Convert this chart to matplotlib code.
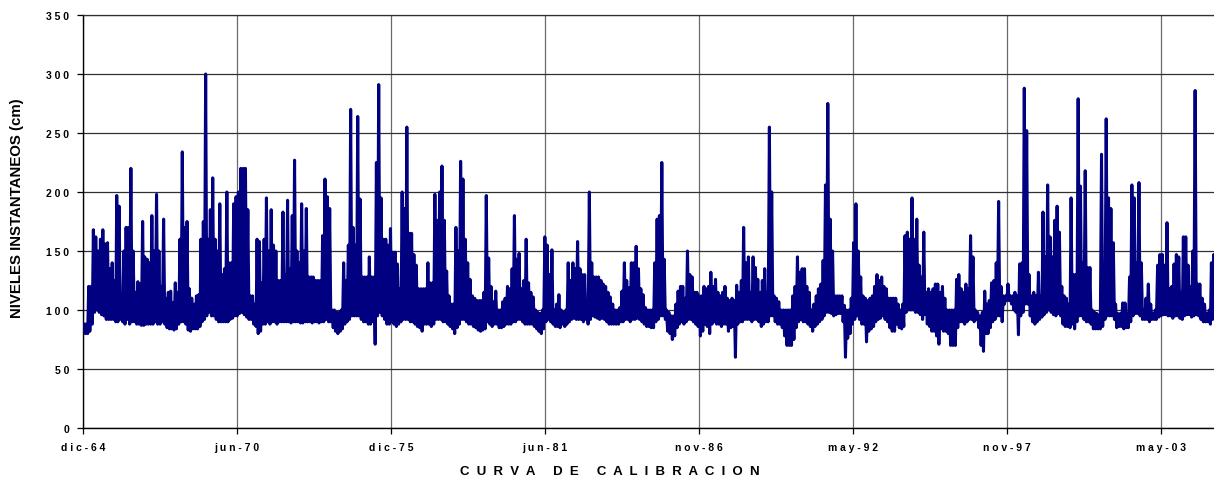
import matplotlib
matplotlib.use("Agg")
import numpy as np
import pandas as pd
import matplotlib.pyplot as plt
import matplotlib.dates as mdates

# ---------------- data (monthly max / min levels, cm) ----------------
nivel_max_1965_1974 = [
    88, 88, 120, 120, 168, 162, 150, 160, 168, 156, 157, 135,
    140, 125, 197, 188, 110, 150, 170, 170, 220, 150, 115, 124,
    122, 175, 145, 143, 140, 180, 150, 198, 150, 120, 177, 110,
    115, 116, 106, 123, 115, 160, 234, 170, 175, 118, 110, 105,
    112, 113, 160, 175, 300, 160, 185, 212, 160, 150, 190, 130,
    135, 200, 140, 140, 190, 196, 200, 220, 220, 220, 185, 112,
    112, 105, 160, 158, 123, 160, 195, 150, 185, 155, 150, 125,
    125, 183, 130, 193, 135, 180, 227, 150, 140, 190, 150, 186,
    128, 128, 128, 125, 125, 125, 163, 211, 196, 186, 100, 100,
    98, 98, 100, 140, 125, 155, 270, 170, 155, 264, 194, 128,
]
nivel_max_1975_1984 = [
    128, 128, 145, 128, 128, 225, 291, 195, 160, 160, 155, 169,
    149, 149, 139, 118, 200, 186, 255, 165, 165, 147, 138, 118,
    118, 118, 118, 140, 123, 123, 198, 176, 200, 222, 176, 133,
    112, 105, 105, 170, 150, 226, 211, 160, 140, 126, 112, 110,
    108, 108, 108, 115, 197, 144, 120, 107, 116, 100, 100, 107,
    110, 120, 118, 135, 180, 143, 148, 118, 125, 160, 123, 115,
    111, 100, 98, 97, 100, 162, 155, 130, 151, 100, 105, 113,
    100, 98, 100, 140, 125, 140, 135, 158, 135, 130, 130, 105,
    200, 140, 128, 128, 128, 125, 122, 120, 115, 111, 105, 100,
    100, 102, 116, 140, 125, 119, 140, 140, 154, 135, 118, 113,
]
nivel_max_1985_1994 = [
    102, 100, 100, 100, 140, 177, 180, 225, 143, 100, 98, 95,
    95, 105, 116, 120, 120, 110, 150, 130, 128, 115, 115, 112,
    112, 120, 118, 120, 132, 120, 126, 115, 112, 115, 120, 110,
    108, 110, 108, 121, 115, 125, 170, 140, 145, 115, 145, 136,
    126, 115, 125, 135, 115, 255, 200, 112, 110, 107, 100, 100,
    100, 100, 100, 112, 120, 145, 132, 135, 135, 120, 115, 100,
    105, 112, 118, 122, 142, 206, 275, 177, 150, 112, 112, 112,
    112, 104, 100, 100, 110, 157, 190, 150, 128, 112, 110, 108,
    110, 112, 120, 130, 125, 128, 120, 118, 110, 110, 110, 110,
    105, 100, 105, 163, 166, 160, 195, 160, 177, 138, 128, 166,
]
nivel_max_1995_2005 = [
    115, 118, 115, 118, 122, 122, 115, 120, 110, 100, 100, 100,
    100, 126, 130, 118, 115, 122, 118, 163, 145, 100, 98, 95,
    98, 116, 105, 108, 123, 125, 140, 192, 120, 112, 112, 122,
    112, 112, 115, 112, 139, 140, 288, 252, 130, 112, 115, 112,
    132, 112, 183, 145, 206, 162, 145, 176, 188, 166, 120, 112,
    110, 105, 195, 130, 130, 279, 205, 140, 218, 136, 136, 100,
    98, 97, 95, 232, 130, 262, 195, 186, 157, 105, 97, 97,
    106, 106, 97, 128, 206, 195, 140, 208, 140, 100, 110, 122,
    105, 97, 100, 138, 147, 147, 138, 174, 118, 120, 139, 147,
    145, 115, 162, 162, 138, 120, 150, 286, 122, 122, 110, 105,
    97, 100, 140, 147,
]

nivel_min_1965_1974 = [
    80, 80, 82, 88, 98, 100, 98, 96, 95, 92, 92, 92,
    92, 90, 90, 92, 90, 88, 92, 88, 90, 90, 88, 88,
    87, 87, 88, 88, 88, 88, 90, 88, 88, 90, 88, 85,
    84, 84, 83, 84, 88, 90, 90, 88, 83, 82, 84, 84,
    84, 86, 90, 92, 95, 98, 95, 95, 92, 90, 90, 90,
    90, 90, 92, 93, 95, 95, 97, 98, 96, 94, 92, 92,
    88, 86, 80, 82, 88, 88, 90, 88, 90, 90, 88, 90,
    90, 90, 90, 90, 89, 90, 90, 90, 89, 89, 90, 90,
    90, 89, 90, 90, 89, 90, 90, 92, 90, 90, 85, 82,
    80, 82, 84, 88, 90, 92, 95, 95, 95, 95, 92, 90,
]
nivel_min_1975_1984 = [
    90, 88, 88, 90, 71, 95, 98, 95, 92, 88, 88, 90,
    88, 86, 88, 90, 92, 92, 92, 90, 90, 88, 86, 85,
    82, 88, 88, 88, 86, 88, 92, 92, 92, 90, 90, 88,
    86, 84, 80, 85, 88, 92, 92, 90, 88, 88, 86, 85,
    83, 82, 83, 84, 90, 88, 86, 88, 88, 85, 85, 86,
    88, 88, 88, 90, 90, 92, 92, 90, 88, 88, 88, 88,
    86, 84, 82, 80, 84, 90, 92, 90, 88, 86, 86, 85,
    88, 86, 88, 90, 92, 93, 92, 92, 92, 90, 92, 88,
    92, 95, 94, 93, 92, 93, 92, 90, 88, 88, 88, 88,
    88, 90, 90, 92, 92, 90, 92, 92, 93, 92, 90, 88,
]
nivel_min_1985_1994 = [
    86, 86, 85, 85, 90, 92, 95, 95, 92, 82, 80, 75,
    78, 85, 88, 90, 88, 90, 92, 92, 90, 88, 86, 78,
    82, 88, 86, 80, 88, 90, 88, 88, 86, 88, 88, 82,
    85, 86, 60, 88, 90, 90, 92, 92, 92, 90, 92, 92,
    90, 86, 88, 90, 90, 95, 95, 90, 88, 88, 85, 78,
    70, 70, 70, 75, 85, 90, 92, 90, 90, 88, 86, 82,
    86, 88, 90, 92, 95, 98, 98, 97, 95, 96, 97, 97,
    90, 60, 76, 80, 88, 92, 95, 92, 88, 88, 73, 82,
    84, 86, 90, 92, 93, 95, 92, 90, 85, 82, 82, 88,
    85, 84, 86, 98, 100, 100, 100, 98, 98, 96, 92, 96,
]
nivel_min_1995_2005 = [
    88, 86, 82, 82, 78, 71, 84, 82, 82, 80, 70, 70,
    70, 85, 90, 90, 88, 90, 92, 92, 90, 92, 85, 70,
    65, 80, 80, 85, 90, 92, 95, 95, 90, 105, 108, 108,
    105, 100, 98, 79, 95, 98, 105, 105, 95, 90, 88, 90,
    92, 94, 96, 98, 100, 98, 96, 95, 97, 95, 88, 86,
    86, 85, 88, 84, 90, 95, 95, 92, 90, 90, 88, 84,
    84, 84, 84, 86, 92, 95, 95, 95, 92, 85, 86, 86,
    84, 85, 85, 90, 95, 97, 97, 95, 92, 92, 92, 90,
    92, 92, 92, 94, 95, 96, 96, 95, 95, 93, 95, 95,
    93, 92, 95, 96, 96, 94, 95, 96, 95, 92, 90, 90,
    90, 88, 92, 95,
]

x_tick_labels = ["dic-64", "jun-70", "dic-75", "jun-81", "nov-86", "may-92", "nov-97", "may-03"]
y_ticks = [0, 50, 100, 150, 200, 250, 300, 350]

nivel_max = nivel_max_1965_1974 + nivel_max_1975_1984 + nivel_max_1985_1994 + nivel_max_1995_2005
nivel_min = nivel_min_1965_1974 + nivel_min_1975_1984 + nivel_min_1985_1994 + nivel_min_1995_2005
meses = pd.date_range("1965-01-01", periods=len(nivel_max), freq="MS")

# zig-zag line: max early in month, min mid-month
t_max = mdates.date2num((meses + pd.Timedelta(days=3)).to_pydatetime())
t_min = mdates.date2num((meses + pd.Timedelta(days=18)).to_pydatetime())
x = np.empty(2 * len(meses))
y = np.empty(2 * len(meses))
x[0::2], x[1::2] = t_max, t_min
y[0::2], y[1::2] = nivel_max, nivel_min

# ---------------- figure ----------------
FONT = ["Liberation Sans", "DejaVu Sans"]
plt.rcParams["font.family"] = FONT

def spaced(s, sep=" "):
    return sep.join(s)

W, H = 1214, 481
fig = plt.figure(figsize=(W / 100, H / 100), dpi=100)
ax = fig.add_axes([83 / W, 52 / H, (W - 83) / W, 413 / H])

ax.plot(x, y, color="#000080", lw=2.2, solid_joinstyle="round", zorder=3)

start = mdates.date2num(pd.Timestamp("1964-12-20").to_pydatetime())
step = 2004.0
ax.set_xlim(start, start + step * (W - 83) / 154.0)
ax.set_ylim(0, 350)

ax.set_xticks(start + step * np.arange(len(x_tick_labels)))
ax.set_xticklabels([spaced(s) for s in x_tick_labels], fontsize=7.5, fontweight="bold")
ax.set_yticks(y_ticks)
ax.set_yticklabels([spaced(str(v)) for v in y_ticks], fontsize=7.5, fontweight="bold")

ax.yaxis.grid(True, color="#303030", lw=0.9)
ax.xaxis.grid(True, color="#6a6a6a", lw=0.9)
ax.set_axisbelow(True)

ax.spines["right"].set_visible(False)
ax.spines["top"].set_color("#303030")
ax.spines["top"].set_linewidth(0.9)
ax.spines["left"].set_color("black")
ax.spines["bottom"].set_color("black")
ax.spines["left"].set_linewidth(1.0)
ax.spines["bottom"].set_linewidth(1.0)
ax.tick_params(axis="both", direction="out", length=4, width=0.9, color="black")
ax.tick_params(axis="y", pad=6)
ax.tick_params(axis="x", pad=6)

fig.text(17 / W, 1 - 208 / H, "NIVELES INSTANTANEOS (cm)", rotation=90,
         ha="center", va="center", fontsize=10.8, fontweight="bold")
fig.text(610 / W, 1 - 472 / H, "  ".join("CURVA DE CALIBRACION").replace("      ", "     "),
         ha="center", va="center", fontsize=9.5, fontweight="bold")

fig.savefig("out.png", dpi=100)
